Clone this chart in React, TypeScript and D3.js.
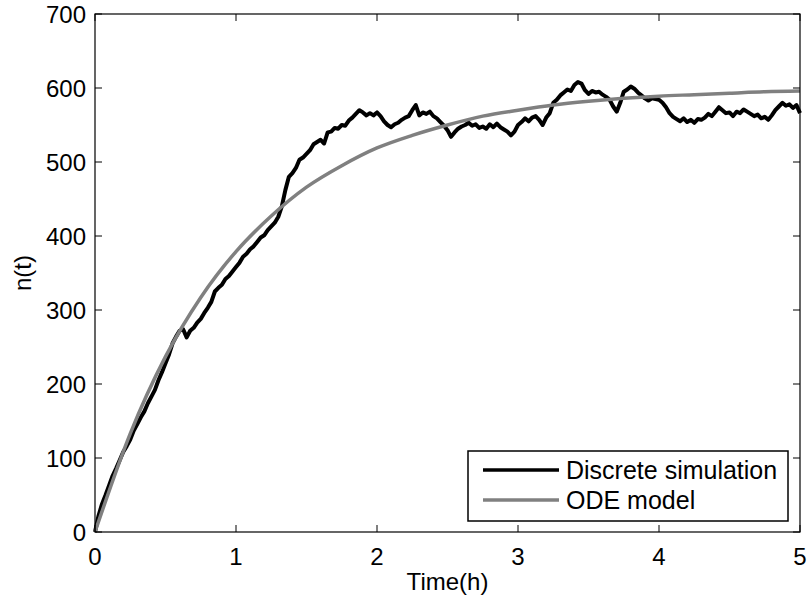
import React from "react";
import * as d3 from "d3";

const TIME_STEP = 0.025;
const simValues: number[] = [
  0, 22, 38, 50, 63, 76, 86, 97, 108, 116,
  125, 137, 146, 155, 163, 174, 183, 192, 205, 216,
  228, 240, 255, 264, 272, 274, 263, 272, 276, 283,
  288, 296, 303, 311, 325, 330, 334, 342, 346, 352,
  358, 364, 372, 376, 382, 386, 392, 398, 401, 408,
  413, 418, 426, 440, 462, 480, 485, 492, 503, 506,
  511, 516, 524, 527, 530, 525, 540, 541, 546, 545,
  550, 549, 556, 560, 565, 570, 567, 563, 566, 563,
  567, 562, 555, 550, 547, 551, 553, 557, 560, 562,
  570, 577, 563, 567, 565, 568, 562, 559, 554, 549,
  543, 534, 540, 545, 548, 550, 553, 549, 551, 546,
  548, 545, 551, 547, 552, 547, 544, 541, 536, 541,
  550, 554, 559, 555, 560, 562, 557, 550, 560, 566,
  580, 584, 590, 594, 598, 596, 604, 608, 606, 597,
  592, 596, 594, 595, 591, 588, 584, 575, 568, 580,
  595, 598, 602, 599, 594, 590, 586, 583, 586, 585,
  584, 580, 574, 566, 561, 558, 555, 559, 554, 557,
  553, 558, 557, 560, 565, 562, 568, 574, 570, 566,
  567, 562, 568, 566, 571, 568, 565, 562, 564, 559,
  561, 557, 563, 570, 575, 580, 576, 578, 573, 577,
  566,
];

const odeTimes: number[] = [0, 0.25, 0.5, 0.75, 1, 1.25, 1.5, 1.75, 2, 2.25, 2.5, 2.75, 3, 3.25, 3.5, 3.75, 4, 4.25, 4.5, 4.75, 5];
const odeValues: number[] = [0, 133, 237, 317, 379, 427, 466, 495, 519, 536, 550, 562, 570, 577, 582, 586, 589, 591, 593, 595, 596];

const xTicks: number[] = [0, 1, 2, 3, 4, 5];
const yTicks: number[] = [0, 100, 200, 300, 400, 500, 600, 700];
const seriesNames: string[] = ["Discrete simulation", "ODE model"];
const xLabel = "Time(h)";
const yLabel = "n(t)";

export default function App() {
  const W = 808, H = 599;
  const left = 95, right = 800, top = 14, bottom = 532;
  const x = d3.scaleLinear().domain([0, 5]).range([left, right]);
  const y = d3.scaleLinear().domain([0, 700]).range([bottom, top]);
  const font = "'Liberation Sans', Arial, Helvetica, sans-serif";
  const fs = 24;
  const lfs = 25;
  const tickLen = 7;

  const simPts: [number, number][] = simValues.map((v, i) => [i * TIME_STEP, v]);
  const odePts: [number, number][] = odeTimes.map((t, i) => [t, odeValues[i]]);
  const line = d3.line<[number, number]>().x(d => x(d[0])).y(d => y(d[1]));
  const smooth = d3.line<[number, number]>().x(d => x(d[0])).y(d => y(d[1])).curve(d3.curveMonotoneX);

  const lg = { x0: 468, y0: 451, x1: 788, y1: 521 };
  const rows = [470, 500];
  const colors = ["#000000", "#808080"];

  return (
    <svg width={W} height={H} style={{ position: "absolute", left: 0, top: 0, background: "#fff" }} fontFamily={font}>
      <rect x={0} y={0} width={W} height={H} fill="#fff" />
      <path d={line(simPts) || ""} fill="none" stroke="#000" strokeWidth={4} strokeLinejoin="round" />
      <path d={smooth(odePts) || ""} fill="none" stroke="#808080" strokeWidth={3.5} />
      <rect x={left} y={top} width={right - left} height={bottom - top} fill="none" stroke="#000" strokeWidth={1.2} />
      {xTicks.map(t => (
        <g key={"x" + t}>
          <line x1={x(t)} x2={x(t)} y1={bottom} y2={bottom - tickLen} stroke="#000" strokeWidth={1} />
          <line x1={x(t)} x2={x(t)} y1={top} y2={top + tickLen} stroke="#000" strokeWidth={1} />
          <text x={x(t)} y={bottom + 33} fontSize={fs} textAnchor="middle">{t}</text>
        </g>
      ))}
      {yTicks.map(t => (
        <g key={"y" + t}>
          <line x1={left} x2={left + tickLen} y1={y(t)} y2={y(t)} stroke="#000" strokeWidth={1} />
          <line x1={right} x2={right - tickLen} y1={y(t)} y2={y(t)} stroke="#000" strokeWidth={1} />
          <text x={left - 9} y={y(t) + 8.5} fontSize={fs} textAnchor="end">{t}</text>
        </g>
      ))}
      <text x={(left + right) / 2} y={590} fontSize={fs} textAnchor="middle">{xLabel}</text>
      <text transform={`translate(31,${(top + bottom) / 2}) rotate(-90)`} fontSize={fs} textAnchor="middle">{yLabel}</text>
      <rect x={lg.x0} y={lg.y0} width={lg.x1 - lg.x0} height={lg.y1 - lg.y0} fill="#fff" stroke="#000" strokeWidth={1.5} />
      {seriesNames.map((s, i) => (
        <g key={s}>
          <line x1={483} x2={559} y1={rows[i]} y2={rows[i]} stroke={colors[i]} strokeWidth={3.5} />
          <text x={566} y={rows[i] + 8.5} fontSize={lfs}>{s}</text>
        </g>
      ))}
    </svg>
  );
}
